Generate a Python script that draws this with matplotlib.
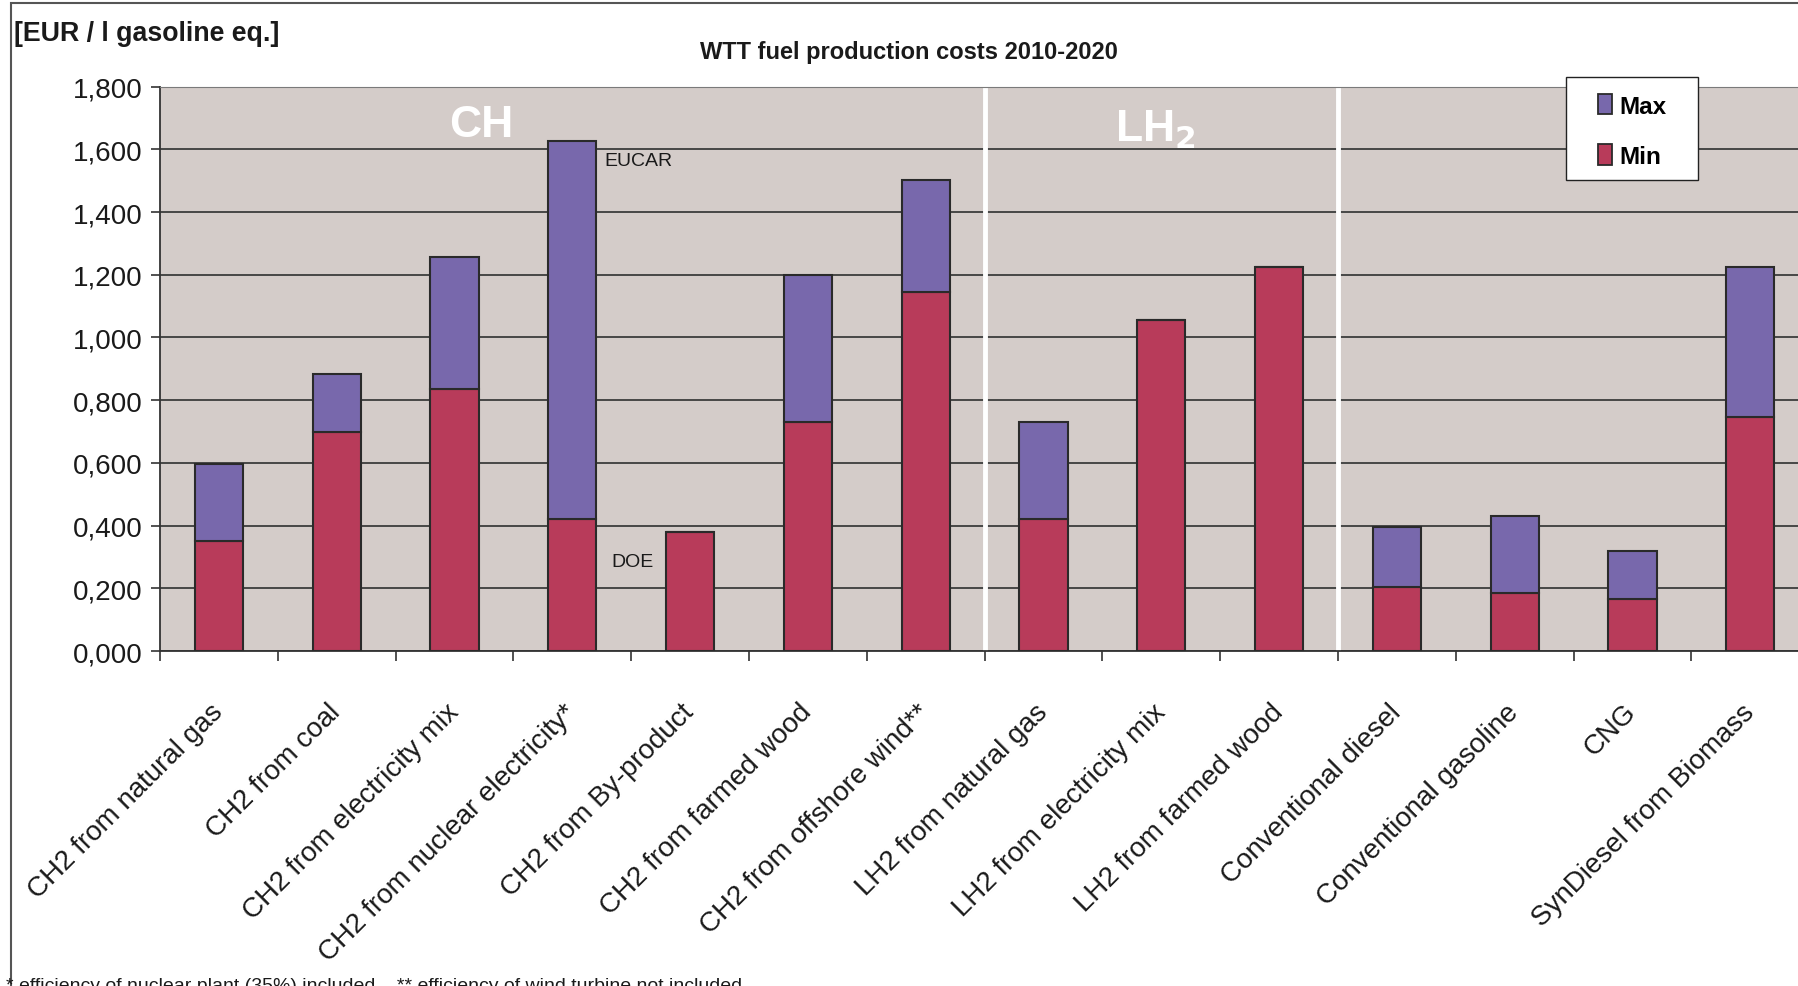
import numpy as np
import matplotlib
matplotlib.use("Agg")
import matplotlib.pyplot as plt
from matplotlib import font_manager
from matplotlib.patches import Rectangle, Patch
from matplotlib.ticker import FuncFormatter, MultipleLocator

# Data (EUR / l gasoline eq.)
categories = ["CH2 from natural gas", "CH2 from coal", "CH2 from electricity mix",
              "CH2 from nuclear electricity*", "CH2 from By-product", "CH2 from farmed wood",
              "CH2 from offshore wind**", "LH2 from natural gas", "LH2 from electricity mix",
              "LH2 from farmed wood", "Conventional diesel", "Conventional gasoline",
              "CNG", "SynDiesel from Biomass"]
min_vals = [0.350, 0.700, 0.836, 0.420, 0.378, 0.730, 1.145, 0.420, 1.056, 1.224, 0.203, 0.185, 0.167, 0.745]
max_vals = [0.595, 0.883, 1.257, 1.626, 0.378, 1.200, 1.503, 0.731, 1.056, 1.224, 0.394, 0.431, 0.320, 1.224]
group_edges = [6.5, 9.5]

names = {f.name for f in font_manager.fontManager.ttflist}
narrow = "Liberation Sans Narrow" if "Liberation Sans Narrow" in names else "Liberation Sans"
plt.rcParams["font.family"] = ["Liberation Sans", "DejaVu Sans"]

red = "#B83B5A"
purple = "#7868AC"
edge = "#2a2a2a"

fig = plt.figure(figsize=(17.98, 9.87), dpi=100)
W, H = 1798, 987
ax = fig.add_axes([160 / W, 1 - 652 / H, 14 * 117.8 / W, (652 - 87.6) / H])
ax.set_facecolor("#D4CCC9")

x = np.arange(len(categories))
mins = np.array(min_vals)
maxs = np.array(max_vals)
ax.bar(x, mins, width=0.41, color=red, edgecolor=edge, linewidth=1.5, zorder=3)
ax.bar(x, maxs - mins, bottom=mins, width=0.41, color=purple, edgecolor=edge, linewidth=1.5, zorder=3)

for e in group_edges:
    ax.axvline(e, color="white", linewidth=3.5, zorder=2)

ax.set_xlim(-0.5, len(categories) - 0.5)
ax.set_ylim(0, 1.8)
ax.yaxis.set_major_locator(MultipleLocator(0.2))
ax.yaxis.set_major_formatter(FuncFormatter(lambda v, p: f"{v:.3f}".replace(".", ",")))
ax.grid(axis="y", color="#3c3c3c", linewidth=1.3, zorder=1)
ax.set_axisbelow(True)

ax.set_xticks(x)
ax.set_xticklabels(categories, rotation=45, ha="right", va="center", rotation_mode="anchor",
                   fontsize=20, color="#1a1a1a")
ax.tick_params(axis="x", which="major", length=0, pad=41)
ax.set_xticks(np.arange(-0.5, len(categories)), minor=True)
ax.tick_params(axis="x", which="minor", length=7.5, width=1.2, color="#333333", direction="out")
ax.tick_params(axis="y", length=6.5, width=1.2, color="#333333", labelsize=20, pad=6,
               labelcolor="#1a1a1a")

for s in ["left", "bottom"]:
    ax.spines[s].set_color("#333333")
    ax.spines[s].set_linewidth(1.3)
ax.spines["top"].set_color("#7a7a7a")
ax.spines["right"].set_visible(False)

# annotations
ax.text(2.23, 1.68, "CH", color="white", fontsize=32, fontweight="bold", family=narrow,
        ha="center", va="center", zorder=4)
ax.text(7.95, 1.665, "LH$_\\mathbf{2}$", color="white", fontsize=32, fontweight="bold", family=narrow,
        ha="center", va="center", zorder=4)
ax.text(3.27, 1.564, "EUCAR", fontsize=14, family=narrow, ha="left", va="center", color="#1a1a1a")
ax.text(3.33, 0.287, "DOE", fontsize=14, family=narrow, ha="left", va="center", color="#1a1a1a")

fig.text(14 / W, 1 - 34 / H, "[EUR / l gasoline eq.]", fontsize=19.3, fontweight="bold",
         family=narrow, ha="left", va="center", color="#1a1a1a")
fig.text(909 / W, 1 - 52 / H, "WTT fuel production costs 2010-2020", fontsize=17, fontweight="bold",
         family=narrow, ha="center", va="center", color="#1a1a1a")
fig.text(6 / W, -0.004, "* efficiency of nuclear plant (35%) included    ** efficiency of wind turbine not included",
         fontsize=14, family=narrow, ha="left", va="baseline", color="#1a1a1a")

# legend box drawn separately so the padding can differ horizontally and vertically
fig.patches.append(Rectangle((1566 / W, 1 - 181 / H), 132 / W, 103 / H, transform=fig.transFigure,
                             facecolor="white", edgecolor="#222222", linewidth=1.0, zorder=4))
handles = [Patch(facecolor=purple, edgecolor=edge, linewidth=1.3, label="Max"),
           Patch(facecolor=red, edgecolor=edge, linewidth=1.3, label="Min")]
leg = fig.legend(handles=handles, loc="center", bbox_to_anchor=(1632 / W, 1 - 132 / H),
                 frameon=False, handlelength=0.6, handleheight=0.9, handletextpad=0.3,
                 labelspacing=1.1, borderpad=0, borderaxespad=0,
                 prop={"family": narrow, "weight": "bold", "size": 17.5})
leg.set_zorder(5)

fig.patches.append(Rectangle((11 / W, -0.05), 1.1, 1.05 - 4 / H, transform=fig.transFigure,
                             fill=False, edgecolor="#555555", linewidth=1.5))

fig.savefig("out.png", dpi=100)
